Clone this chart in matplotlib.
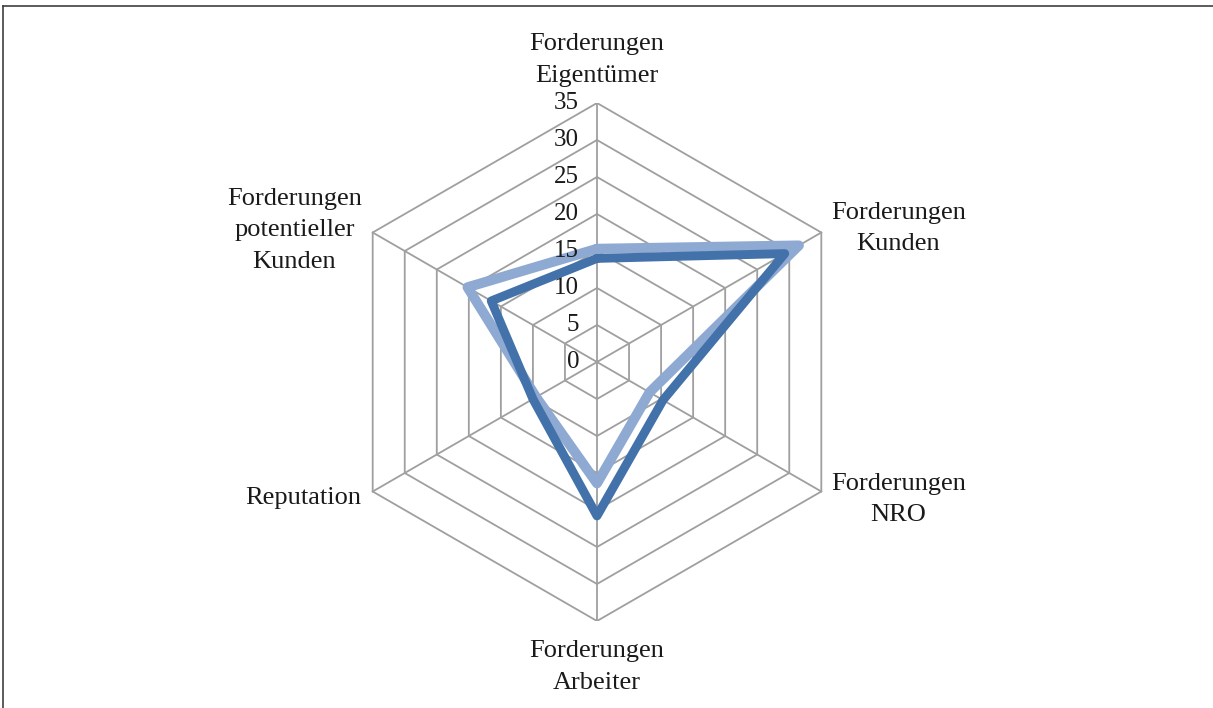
import numpy as np
import matplotlib
matplotlib.use("Agg")
import matplotlib.pyplot as plt
from matplotlib.lines import Line2D

# categories clockwise, starting at the top
categories = ["Forderungen\nEigentümer", "Forderungen\nKunden", "Forderungen\nNRO",
              "Forderungen\nArbeiter", "Reputation", "Forderungen\npotentieller\nKunden"]
series_dark = [14, 29.3, 10.3, 20.8, 10, 16.5]
series_light = [15.3, 31.5, 8.2, 16.4, 9.5, 20.2]
ticks = [0, 5, 10, 15, 20, 25, 30, 35]

plt.rcParams['font.family'] = ['Liberation Serif', 'DejaVu Serif']

W, H = 1213, 708
fig = plt.figure(figsize=(W / 100, H / 100), dpi=100)
# center of the web at pixel (597, 362), radius 259 px for 35
cx, cy, rad = 597, 362, 259
ax = fig.add_axes([(cx - rad) / W, (H - cy - rad) / H, 2 * rad / W, 2 * rad / H])
ax.set_xlim(-35, 35)
ax.set_ylim(-35, 35)
ax.axis('off')

n = len(categories)
ang = np.pi / 2 - np.arange(n) * 2 * np.pi / n
ux, uy = np.cos(ang), np.sin(ang)

grid_col = '#9f9f9f'
for r in ticks[1:]:
    ax.plot(np.append(r * ux, r * ux[0]), np.append(r * uy, r * uy[0]),
            color=grid_col, lw=1.3, zorder=1)
for i in range(n):
    ax.plot([0, 35 * ux[i]], [0, 35 * uy[i]], color=grid_col, lw=1.3, zorder=1)

def draw(vals, col, lw, z):
    v = np.array(vals)
    ax.plot(np.append(v * ux, v[0] * ux[0]), np.append(v * uy, v[0] * uy[0]),
            color=col, lw=lw, solid_joinstyle='round', solid_capstyle='round', zorder=z)

draw(series_light, '#8eaad2', 7.2, 3)
draw(series_dark, '#4372aa', 6.4, 4)

for t in ticks:
    ax.text(-2.4, t, str(t), ha='right', va='center', fontsize=18, color='#1a1a1a')

# label positions (data units)
lab_pos = [(0, 40.8, 'center'), (40.7, 18.0, 'center'), (40.7, -18.6, 'center'),
           (0, -41.2, 'center'), (-31.8, -18.4, 'right'), (-40.9, 17.8, 'center')]
for (x, y, ha), lab in zip(lab_pos, categories):
    ax.text(x, y, lab, ha=ha, va='center', ma='center', fontsize=19,
            color='#1a1a1a', linespacing=1.55)

# outer frame (top and left edges visible)
fig.add_artist(Line2D([3 / W, 1], [1 - 6 / H, 1 - 6 / H], color='#404040', lw=1.2))
fig.add_artist(Line2D([3 / W, 3 / W], [0, 1 - 6 / H], color='#404040', lw=1.2))

fig.savefig('out.png', dpi=100)
